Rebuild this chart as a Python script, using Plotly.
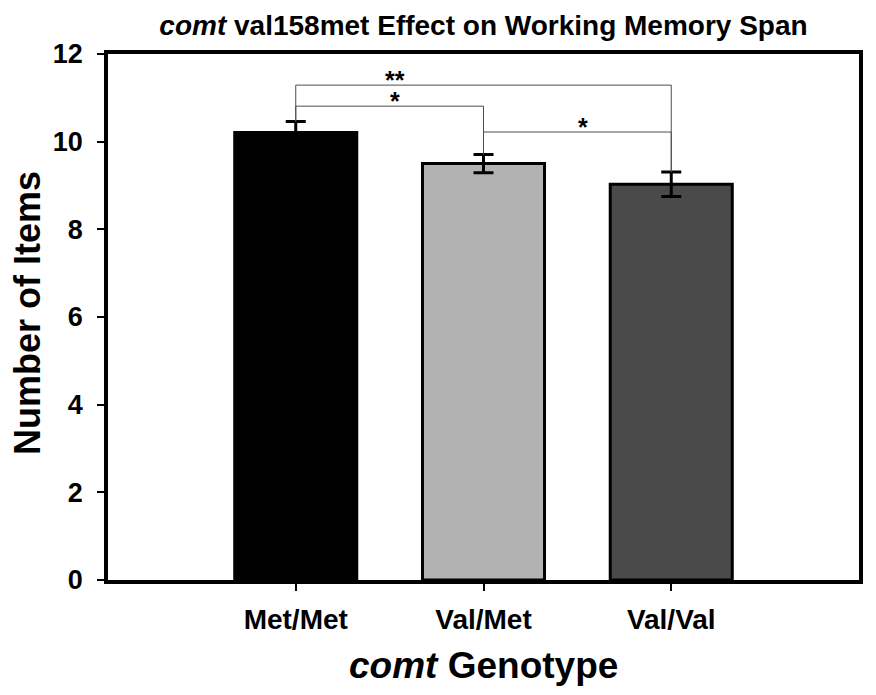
import plotly.graph_objects as go

# ---- data ----
genotypes = ["Met/Met", "Val/Met", "Val/Val"]
mean_items = [10.21, 9.50, 9.03]
sem_items = [0.25, 0.21, 0.28]
bar_colors = ["#000000", "#b2b2b2", "#4a4a4a"]

# significance brackets: (left index, right index, bracket height, label)
bracket_left = [0, 0, 1]
bracket_right = [1, 2, 2]
bracket_height = [10.81, 11.29, 10.22]
bracket_label = ["*", "**", "*"]

y_ticks = [0, 2, 4, 6, 8, 10, 12]

FONT = "Liberation Sans, Arial, Helvetica, sans-serif"

# page has an 8px body margin; compensate so the figure lands where the reference does
OFF = 8
W, H = 876 - OFF, 695 - OFF
PL, PT, PR, PB = 108 - OFF, 54 - OFF, 17, 115
PW = W - PL - PR
PH = H - PT - PB


def px_to_paper_y(py):
    return ((695 - PB) - py) / PH


def px_to_paper_x(px):
    return (px - 108) / PW


fig = go.Figure()
fig.add_trace(go.Bar(
    x=genotypes,
    y=mean_items,
    width=0.65,
    marker=dict(color=bar_colors, line=dict(color="black", width=3)),
    error_y=dict(type="data", array=sem_items, visible=True,
                 color="black", thickness=3, width=10),
    showlegend=False,
))

tops = [m + s for m, s in zip(mean_items, sem_items)]
for a, b, h, lab in zip(bracket_left, bracket_right, bracket_height, bracket_label):
    fig.add_trace(go.Scatter(
        x=[genotypes[a], genotypes[a], genotypes[b], genotypes[b]],
        y=[tops[a], h, h, tops[b]],
        mode="lines",
        line=dict(color="#4d4d4d", width=1),
        showlegend=False,
        hoverinfo="skip",
    ))
    fig.add_annotation(
        x=a + 0.53, y=h, xref="x", yref="y",
        text=lab, showarrow=False,
        yanchor="bottom", yshift=-11,
        font=dict(family=FONT, size=25, color="black", weight="bold"),
    )

fig.add_annotation(
    x=0.5, y=px_to_paper_y(665), xref="paper", yref="paper",
    text="<i>comt</i> Genotype", showarrow=False,
    xanchor="center", yanchor="middle",
    font=dict(family=FONT, size=37, color="black", weight="bold"),
)
fig.add_annotation(
    x=px_to_paper_x(27), y=px_to_paper_y(313), xref="paper", yref="paper",
    text="Number of Items", showarrow=False, textangle=-90,
    xanchor="center", yanchor="middle",
    font=dict(family=FONT, size=36, color="black", weight="bold"),
)

fig.update_layout(
    width=W, height=H,
    margin=dict(l=PL, r=PR, t=PT, b=PB, autoexpand=False),
    paper_bgcolor="white", plot_bgcolor="white",
    title=dict(
        text="<i>comt</i> val158met Effect on Working Memory Span",
        x=0.5, xref="paper", y=1 - (25 - OFF) / H, yref="container",
        xanchor="center", yanchor="middle",
        font=dict(family=FONT, size=28, color="black", weight="bold"),
    ),
    xaxis=dict(
        range=[-1, 3], showgrid=False, zeroline=False,
        showline=True, linecolor="black", linewidth=3.5, mirror=True,
        ticks="outside", ticklen=7, tickwidth=1.5, tickcolor="black",
        ticklabelstandoff=5,
        tickfont=dict(family=FONT, size=28, color="black", weight="bold"),
    ),
    yaxis=dict(
        range=[0, 12], tickvals=y_ticks, showgrid=False, zeroline=False,
        showline=True, linecolor="black", linewidth=3.5, mirror=True,
        ticks="outside", ticklen=7, tickwidth=1.5, tickcolor="black",
        ticklabelstandoff=9,
        tickfont=dict(family=FONT, size=27, color="black", weight="bold"),
    ),
)

fig.write_html("out.html")
